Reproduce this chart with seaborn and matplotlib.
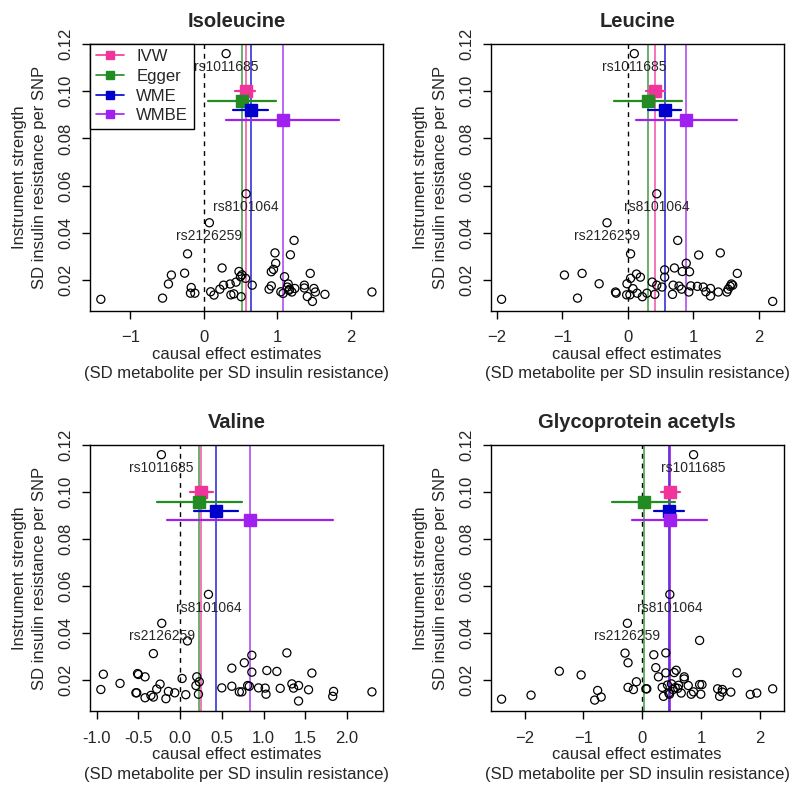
import numpy as np
import pandas as pd
import matplotlib
matplotlib.use("Agg")
import matplotlib.pyplot as plt
import seaborn as sns

sns.set_style("ticks")
plt.rcParams['font.family'] = ['Liberation Sans', 'DejaVu Sans']
plt.rcParams['font.size'] = 12

# ---- data ----
titles = ['Isoleucine', 'Leucine', 'Valine', 'Glycoprotein acetyls']
methods = ['IVW', 'Egger', 'WME', 'WMBE']
colors = ['#F0359A', '#228B22', '#0000CD', '#A020F0']
est_y = [0.100, 0.096, 0.092, 0.088]

snp_names = ['rs1011685', 'rs8101064', 'rs2126259']
snp_y = [0.1160, 0.0565, 0.0442]

iso_x = [-1.40, -0.56, -0.48, -0.44, -0.26, -0.22, -0.17, -0.18, -0.12, 0.095, 0.14, 0.22, 0.27,
         0.25, 0.36, 0.37, 0.41, 0.44, 0.48, 0.50, 0.52, 0.51, 0.57, 0.66, 0.89, 0.92, 0.97, 0.98,
         0.92, 0.95, 1.10, 1.05, 1.08, 1.15, 1.14, 1.16, 1.18, 1.23, 1.20, 1.24, 1.37, 1.37, 1.41,
         1.45, 1.48, 1.50, 1.52, 1.65, 2.29, 1.17]
iso_y = [0.0117, 0.0122, 0.0182, 0.0220, 0.0228, 0.0310, 0.0167, 0.0143, 0.0143, 0.0149, 0.0135,
         0.0160, 0.0177, 0.0250, 0.0182, 0.0136, 0.0140, 0.0190, 0.0235, 0.0213, 0.0221, 0.0128,
         0.0206, 0.0177, 0.0160, 0.0174, 0.0314, 0.0270, 0.0234, 0.0244, 0.0213, 0.0149, 0.0142,
         0.0182, 0.0169, 0.0155, 0.0306, 0.0367, 0.0148, 0.0163, 0.0177, 0.0165, 0.0129, 0.0227,
         0.0108, 0.0163, 0.0148, 0.0138, 0.0148, 0.0160]
iso_snp_x = [0.305, 0.577, 0.077]
iso_est = [0.57, 0.52, 0.64, 1.08]
iso_lo = [0.43, 0.055, 0.40, 0.31]
iso_hi = [0.70, 0.99, 0.88, 1.84]

leu_x = [-1.93, -0.97, -0.77, -0.70, -0.44, -0.19, -0.18, -0.015, -0.02, 0.03, 0.04, 0.04, 0.077,
         0.13, 0.14, 0.19, 0.22, 0.29, 0.37, 0.41, 0.44, 0.52, 0.56, 0.56, 0.68, 0.69, 0.71, 0.76,
         0.78, 0.82, 0.83, 0.89, 0.94, 0.93, 0.96, 1.08, 1.06, 1.15, 1.19, 1.26, 1.26, 1.38, 1.41,
         1.51, 1.53, 1.56, 1.58, 1.60, 1.67, 2.21]
leu_y = [0.0117, 0.0220, 0.0122, 0.0227, 0.0183, 0.0148, 0.0143, 0.0183, 0.0136, 0.0136, 0.0310,
         0.0206, 0.0162, 0.0224, 0.0143, 0.0211, 0.0128, 0.0143, 0.0190, 0.0138, 0.0177, 0.0169,
         0.0242, 0.0211, 0.0138, 0.0177, 0.0250, 0.0367, 0.0173, 0.0160, 0.0235, 0.0270, 0.0234,
         0.0148, 0.0174, 0.0305, 0.0172, 0.0169, 0.0149, 0.0163, 0.0131, 0.0148, 0.0314, 0.0148,
         0.0160, 0.0172, 0.0182, 0.0177, 0.0227, 0.0108]
leu_snp_x = [0.097, 0.44, -0.32]
leu_est = [0.41, 0.31, 0.56, 0.89]
leu_lo = [0.28, -0.21, 0.31, 0.13]
leu_hi = [0.56, 0.82, 0.81, 1.67]

val_x = [0.088, -0.32, -0.95, -0.92, -0.72, -0.53, -0.52, -0.51, -0.50, -0.42, -0.42, -0.35, -0.32,
         -0.28, -0.24, -0.17, -0.14, -0.064, 0.024, 0.068, 0.19, 0.20, 0.23, 0.22, 0.50, 0.62, 0.62,
         0.71, 0.74, 0.77, 0.81, 0.83, 0.86, 0.86, 0.94, 1.02, 1.03, 1.04, 1.16, 1.20, 1.28, 1.34,
         1.36, 1.42, 1.42, 1.54, 1.58, 1.83, 1.84, 2.30]
val_y = [0.0367, 0.0313, 0.0160, 0.0225, 0.0186, 0.0146, 0.0146, 0.0228, 0.0224, 0.0214, 0.0125,
         0.0135, 0.0128, 0.0162, 0.0183, 0.0121, 0.0152, 0.0146, 0.0207, 0.0138, 0.0177, 0.0214,
         0.0193, 0.0140, 0.0167, 0.0174, 0.0251, 0.0150, 0.0150, 0.0274, 0.0177, 0.0174, 0.0306,
         0.0234, 0.0167, 0.0166, 0.0140, 0.0241, 0.0237, 0.0165, 0.0316, 0.0184, 0.0166, 0.0177,
         0.0111, 0.0159, 0.0230, 0.0131, 0.0152, 0.0150]
val_snp_x = [-0.224, 0.34, -0.22]
val_est = [0.256, 0.228, 0.428, 0.84]
val_lo = [0.116, -0.276, 0.172, -0.152]
val_hi = [0.392, 0.748, 0.692, 1.828]

gly_x = [-2.39, -1.89, -1.41, -1.04, -0.81, -0.76, -0.70, -0.295, -0.244, -0.244, -0.153, -0.102,
         0.06, 0.074, 0.193, 0.227, 0.272, 0.335, 0.357, 0.397, 0.397, 0.448, 0.425, 0.493, 0.539,
         0.573, 0.556, 0.613, 0.658, 0.709, 0.709, 0.777, 0.828, 0.868, 0.97, 1.01, 0.99, 0.97,
         1.276, 1.31, 1.356, 1.356, 1.50, 1.605, 1.83, 1.94, 2.21, 0.52, 0.60, 0.46]
gly_y = [0.0119, 0.0136, 0.0238, 0.0222, 0.0115, 0.0156, 0.0128, 0.0315, 0.0274, 0.0169, 0.0160,
         0.0193, 0.0163, 0.0163, 0.0308, 0.0253, 0.0214, 0.0169, 0.0131, 0.0316, 0.0231, 0.0145,
         0.0179, 0.0184, 0.0232, 0.0242, 0.0168, 0.0178, 0.0145, 0.0214, 0.0205, 0.0177, 0.0140,
         0.0150, 0.0181, 0.0181, 0.0140, 0.0369, 0.0163, 0.0131, 0.0160, 0.0149, 0.0149, 0.0231,
         0.0139, 0.0145, 0.0163, 0.0160, 0.0165, 0.0140]
gly_snp_x = [0.868, 0.465, -0.255]
gly_est = [0.47, 0.023, 0.448, 0.46]
gly_lo = [0.318, -0.51, 0.20, -0.176]
gly_hi = [0.63, 0.55, 0.71, 1.095]

xticks = [[-1, 0, 1, 2], [-2, -1, 0, 1, 2],
          [-1.0, -0.5, 0.0, 0.5, 1.0, 1.5, 2.0], [-2, -1, 0, 1, 2]]
yticks = [0.02, 0.04, 0.06, 0.08, 0.10, 0.12]

panels = [
    (iso_x, iso_y, iso_snp_x, iso_est, iso_lo, iso_hi),
    (leu_x, leu_y, leu_snp_x, leu_est, leu_lo, leu_hi),
    (val_x, val_y, val_snp_x, val_est, val_lo, val_hi),
    (gly_x, gly_y, gly_snp_x, gly_est, gly_lo, gly_hi),
]

fig = plt.figure(figsize=(8, 7.95), dpi=100)
positions = [[0.1125, 0.609, 0.366, 0.336], [0.6134, 0.609, 0.366, 0.336],
             [0.1125, 0.1055, 0.366, 0.335], [0.6134, 0.1055, 0.366, 0.335]]

for i, (px, py, sx, est, lo, hi) in enumerate(panels):
    ax = fig.add_axes(positions[i])
    pts = pd.DataFrame({'x': list(px) + list(sx), 'y': list(py) + snp_y})
    ax.axvline(0, color='black', ls=(0, (3.5, 3.5)), lw=1, zorder=1)
    for m in range(4):
        ax.axvline(est[m], color=colors[m], lw=1.2, alpha=0.8, zorder=2)
    sns.scatterplot(data=pts, x='x', y='y', ax=ax, marker='o', s=34,
                    facecolor='none', edgecolor='black', linewidth=0.9, zorder=3)
    for k in range(3):
        ax.annotate(snp_names[k], (sx[k], snp_y[k]), xytext=(0, -9.5),
                    textcoords='offset points', ha='center', va='center',
                    fontsize=10, zorder=4)
    for m in range(4):
        ax.plot([lo[m], hi[m]], [est_y[m], est_y[m]], color=colors[m], lw=1.6, zorder=5)
        ax.plot(est[m], est_y[m], marker='s', ms=8, color=colors[m], ls='none',
                zorder=6, label=methods[m])

    xmin, xmax = min(pts['x']), max(pts['x'])
    pad = 0.04 * (xmax - xmin)
    ax.set_xlim(xmin - pad, xmax + pad)
    ax.set_ylim(0.0068, 0.1202)
    ax.set_xticks(xticks[i])
    if i == 2:
        ax.set_xticklabels([f'{t:.1f}' for t in xticks[i]])
    ax.set_yticks(yticks)
    ax.set_yticklabels([f'{t:.2f}' for t in yticks], rotation=90, va='center')
    ax.tick_params(direction='out', length=6, width=1, labelsize=12, color='black')
    ax.tick_params(axis='x', pad=8)
    ax.tick_params(axis='y', pad=6)
    for sp in ax.spines.values():
        sp.set_visible(True)
        sp.set_color('black')
        sp.set_linewidth(1)
    ax.set_title(titles[i], fontsize=14.5, fontweight='bold', pad=12)
    ax.set_xlabel('causal effect estimates\n(SD metabolite per SD insulin resistance)',
                  fontsize=12, labelpad=1, linespacing=1.4)
    ax.set_ylabel('Instrument strength\nSD insulin resistance per SNP',
                  fontsize=12, labelpad=8, linespacing=1.4)
    ax.grid(False)
    if i == 0:
        ax.legend(loc='upper left', borderaxespad=0, frameon=True, fancybox=False,
                  edgecolor='black', framealpha=1, fontsize=12, handlelength=1.7,
                  handletextpad=0.75, labelspacing=0.28, borderpad=0.33)
        leg = ax.get_legend()
        leg.get_frame().set_linewidth(1)
        for h in leg.legend_handles:
            h.set_linestyle('-')
            h.set_linewidth(1.2)
            h.set_markersize(6)

fig.savefig('out.png', dpi=100)
